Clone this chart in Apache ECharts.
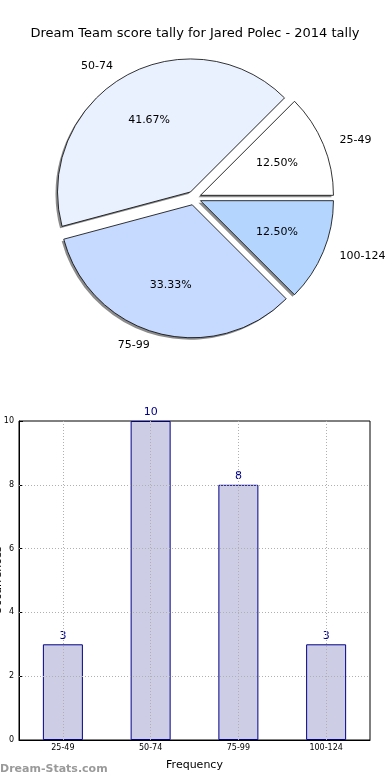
<!DOCTYPE html>
<html><head><meta charset="utf-8">
<script src="https://cdn.jsdelivr.net/npm/echarts@6/dist/echarts.min.js"></script>
<style>html,body{margin:0;padding:0;background:#fff}#c{width:390px;height:780px}</style>
</head><body><div id="c"></div>
<script>
const titleText = 'Dream Team score tally for Jared Polec - 2014 tally';
const categories = ['25-49', '50-74', '75-99', '100-124'];
const counts = [3, 10, 8, 3];
const pieColors = ['#ffffff', '#e9f0fe', '#c6d9fe', '#b4d5fe'];
const yTicks = [0, 2, 4, 6, 8, 10];
const xName = 'Frequency';
const yName = 'Occurrences';

const total = counts.reduce((a, b) => a + b, 0);
const font = 'DejaVu Sans';
const R = 133;
const C = [194, 198];
const OFF = 7;
const dotted = { color: '#b0b0b0', type: [1, 2], width: 1 };

const pieBase = {
  type: 'pie', radius: [0, R],
  clockwise: false, startAngle: 0,
  selectedMode: 'multiple', selectedOffset: OFF,
  avoidLabelOverlap: false, silent: true,
  emphasis: { disabled: true }
};

const chart = echarts.init(document.getElementById('c'), null, { renderer: 'canvas' });
chart.setOption({
  animation: false,
  textStyle: { fontFamily: font },
  title: {
    text: titleText, left: 'center', top: 22,
    textStyle: { fontFamily: font, fontSize: 13, fontWeight: 'normal', color: '#000' }
  },
  graphic: [{
    type: 'text', left: 0, top: 764,
    style: { text: 'Dream-Stats.com', fill: '#9a9a9a', font: 'bold 11px "DejaVu Sans"' }
  }],
  grid: {
    left: 19, right: 20, top: 421, bottom: 40,
    containLabel: false, outerBoundsMode: 'none',
    show: true, borderColor: '#000', borderWidth: 1, backgroundColor: 'transparent'
  },
  xAxis: {
    type: 'category', data: categories,
    name: xName, nameLocation: 'middle', nameGap: 20,
    nameTextStyle: { fontFamily: font, fontSize: 11, color: '#000' },
    axisLine: { lineStyle: { color: '#000' } },
    axisTick: { show: false },
    axisLabel: { fontFamily: font, fontSize: 8, color: '#000', margin: 4 },
    splitLine: { show: false }
  },
  yAxis: {
    type: 'value', min: 0, max: 10, interval: 2,
    name: yName, nameLocation: 'middle', nameGap: 15, nameRotate: 90,
    nameMoveOverlap: false,
    nameTextStyle: { fontFamily: font, fontSize: 11, color: '#000' },
    axisLine: { show: true, lineStyle: { color: '#000' } },
    axisTick: { show: true, inside: true, length: 4, lineStyle: { color: '#000' } },
    axisLabel: {
      fontFamily: font, fontSize: 8, color: '#000', margin: 5,
      formatter: v => yTicks.includes(v) ? String(v) : ''
    },
    splitLine: { show: false }
  },
  series: [
    Object.assign({}, pieBase, {
      center: [C[0] - 2, C[1] + 2], z: 1,
      data: categories.map((c, i) => ({ name: c, value: counts[i], selected: true })),
      itemStyle: { color: '#8c8c8c', borderWidth: 0 },
      label: { show: false }, labelLine: { show: false }
    }),
    Object.assign({}, pieBase, {
      center: C, z: 2,
      data: categories.map((c, i) => ({
        name: c, value: counts[i], selected: true,
        itemStyle: { color: pieColors[i] }
      })),
      itemStyle: { borderColor: '#000', borderWidth: 0.8 },
      label: {
        show: true, position: 'outside', formatter: '{b}',
        fontFamily: font, fontSize: 11, color: '#000'
      },
      labelLine: { show: false, length: 12, length2: 0 }
    }),
    Object.assign({}, pieBase, {
      center: C, z: 3, radius: [0, R * 1.2],
      data: categories.map((c, i) => ({ name: c, value: counts[i], selected: true })),
      itemStyle: { color: 'rgba(0,0,0,0)', borderWidth: 0 },
      label: {
        show: true, position: 'inside',
        formatter: p => (p.value / total * 100).toFixed(2) + '%',
        fontFamily: font, fontSize: 11, color: '#000'
      },
      labelLine: { show: false }
    }),
    {
      type: 'bar', data: counts, barWidth: 40,
      itemStyle: { color: '#cdcde6', borderColor: '#00008b', borderWidth: 1 },
      label: {
        show: true, position: 'top', distance: 3,
        fontFamily: font, fontSize: 11, color: '#00008b'
      },
      markLine: {
        silent: true, symbol: 'none',
        label: { show: false },
        lineStyle: dotted,
        data: categories.map(c => ({ xAxis: c }))
          .concat(yTicks.filter(v => v > 0 && v < 10).map(v => ({ yAxis: v })))
      },
      emphasis: { disabled: true }
    }
  ]
});
</script></body></html>
